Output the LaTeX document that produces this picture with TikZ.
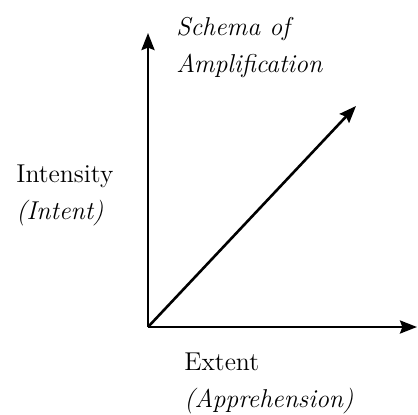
\documentclass[tikz,border=0pt]{standalone}
\usepackage{amsmath}
\usetikzlibrary{arrows.meta, positioning}

\begin{document}
\begin{tikzpicture}[
    x=0.5pt, y=0.5pt, % one unit is one pixel of the 418x414 frame
    every node/.style={font=\fontsize{12.9}{18.5}\selectfont, inner sep=0pt},
    axis label/.style={align=left, anchor=west},
    axis arrow/.style={line width=1.3pt, -{Stealth[length=8.5pt, width=6.5pt, inset=1.2pt]}}
]

    % --- 1. FRAME AND KEY POINTS ---
    \useasboundingbox (0,0) rectangle (418,414);

    \def\oX{148}
    \def\oY{87}

    \coordinate (origin) at (\oX, \oY);
    \coordinate (intensityTip) at (\oX, 381);
    \coordinate (extentTip) at (417, \oY);
    \coordinate (schemaTip) at (356, 308);

    % --- 2. AXES AND THE SCHEMA ARROW ---
    \draw[axis arrow] (origin) -- (intensityTip);
    \draw[axis arrow] (origin) -- (extentTip);
    \draw[axis arrow] (origin) -- (schemaTip);

    % --- 3. LABELS ---
    \node[axis label] (schemaLabel) at (176, 366)
        {\itshape Schema of\\\itshape Amplification};
    \node[axis label] (intensityLabel) at (16, 219)
        {Intensity\\\itshape (Intent)};
    \node[axis label] (extentLabel) at (184, 31)
        {Extent\\\itshape (Apprehension)};

\end{tikzpicture}
\end{document}
